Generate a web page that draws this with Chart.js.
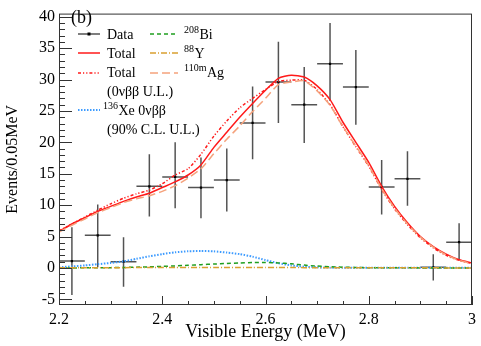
<!DOCTYPE html>
<html>
<head>
<meta charset="utf-8">
<script src="https://cdn.jsdelivr.net/npm/chart.js@4.4.0/dist/chart.umd.min.js"></script>
<style>
  html, body { margin: 0; padding: 0; background: #fff; }
</style>
</head>
<body>
<canvas id="chart" width="481" height="346"></canvas>
<script>
// ---- data ----
const energyGrid = [2.200, 2.225, 2.250, 2.275, 2.300, 2.325, 2.350, 2.375, 2.400, 2.425,
                    2.450, 2.475, 2.500, 2.525, 2.550, 2.575, 2.600, 2.625, 2.650, 2.675,
                    2.700, 2.725, 2.750, 2.775, 2.800, 2.825, 2.850, 2.875, 2.900, 2.925,
                    2.950, 2.975, 3.000];
const totalFit = [5.8, 7.0, 8.0, 9.0, 9.8, 10.6, 11.3, 11.9, 12.8, 13.7,
                  14.8, 16.4, 19.2, 21.6, 24.0, 26.2, 28.3, 30.2, 30.7, 30.4,
                  29.0, 26.8, 23.2, 20.0, 16.8, 13.0, 9.8, 7.2, 5.0, 3.4,
                  2.2, 1.3, 0.8];
const totalUL = [5.9, 7.0, 8.1, 9.2, 10.2, 11.1, 11.8, 12.4, 13.4, 14.8,
                 15.8, 18.1, 21.0, 23.4, 25.5, 27.0, 28.4, 29.7, 29.9, 29.9,
                 28.4, 26.0, 22.5, 19.3, 16.2, 12.5, 9.4, 6.9, 4.8, 3.2,
                 2.0, 1.2, 0.7];
const ag110m = [5.7, 6.8, 7.8, 8.8, 9.6, 10.4, 11.0, 11.5, 12.2, 13.1,
                14.3, 15.8, 18.2, 20.5, 22.6, 24.9, 27.0, 29.2, 29.6, 29.8,
                28.2, 25.9, 22.5, 19.4, 16.3, 12.6, 9.5, 7.0, 4.9, 3.3,
                2.1, 1.2, 0.7];
const xe0nu = [0.1, 0.25, 0.4, 0.6, 0.8, 1.05, 1.45, 1.85, 2.2, 2.5,
               2.65, 2.7, 2.65, 2.45, 2.2, 1.8, 1.25, 0.75, 0.4, 0.2,
               0.1, 0.05, 0.03, 0.02, 0.02, 0.02, 0.02, 0.02, 0.02, 0.02,
               0.02, 0.02, 0.02];
const bi208 = [0.0, 0.0, 0.02, 0.03, 0.05, 0.08, 0.12, 0.18, 0.25, 0.33,
               0.42, 0.52, 0.62, 0.72, 0.8, 0.86, 0.88, 0.8, 0.65, 0.45,
               0.3, 0.2, 0.12, 0.07, 0.04, 0.03, 0.02, 0.02, 0.01, 0.01,
               0.01, 0.01, 0.01];
const y88 = [0.02, 0.03, 0.03, 0.04, 0.05, 0.05, 0.06, 0.06, 0.07, 0.07,
             0.08, 0.08, 0.08, 0.08, 0.08, 0.07, 0.07, 0.06, 0.06, 0.05,
             0.05, 0.04, 0.04, 0.03, 0.03, 0.03, 0.02, 0.02, 0.02, 0.02,
             0.01, 0.01, 0.01];

// measured counts per 0.05 MeV bin, with error bar ends
const dataE  = [2.225, 2.275, 2.325, 2.375, 2.425, 2.475, 2.525, 2.575,
                2.625, 2.675, 2.725, 2.775, 2.825, 2.875, 2.925, 2.975];
const dataN  = [1.1, 5.2, 1.0, 13.0, 14.5, 12.8, 14.0, 23.1,
                29.6, 26.0, 32.5, 28.8, 12.9, 14.2, 0.1, 4.1];
const dataHi = [6.5, 10.1, 4.9, 18.1, 20.0, 17.6, 19.0, 28.9,
                36.0, 32.0, 39.0, 34.7, 17.2, 18.6, 2.2, 7.1];
const dataLo = [-4.3, 0.1, -3.0, 8.2, 9.5, 7.9, 9.0, 17.3,
                23.1, 19.9, 26.6, 22.8, 8.5, 9.9, -2.0, 1.3];
const binHalf = 0.025;

const xTicks = [2.2, 2.4, 2.6, 2.8, 3.0];
const yTicks = [-5, 0, 5, 10, 15, 20, 25, 30, 35, 40];

const panelLabel = '(b)';
const xTitle = 'Visible Energy (MeV)';
const yTitle = 'Events/0.05MeV';

// ---- styles ----
const SERIF = '"Liberation Serif", "DejaVu Serif", serif';
const C_TOTAL = '#ff1a1a';
const C_XE = '#3d9bff';
const C_BI = '#1f9e1f';
const C_Y = '#d9a030';
const C_AG = '#f5a27c';

function curve(values) {
  return energyGrid.map((e, i) => ({ x: e, y: values[i] }));
}

const lineBase = { pointRadius: 0, fill: false, tension: 0.2, borderWidth: 1.5 };

const datasets = [
  { ...lineBase, label: 'Y88', data: curve(y88), borderColor: C_Y, borderDash: [6, 2, 1, 2] },
  { ...lineBase, label: 'Bi208', data: curve(bi208), borderColor: C_BI, borderDash: [4, 3] },
  { ...lineBase, label: 'Xe', data: curve(xe0nu), borderColor: C_XE, borderDash: [1.5, 1.5], borderWidth: 2 },
  { ...lineBase, label: 'Ag110m', data: curve(ag110m), borderColor: C_AG, borderDash: [8, 4] },
  { ...lineBase, label: 'TotalUL', data: curve(totalUL), borderColor: C_TOTAL, borderDash: [3, 2, 1.2, 2, 1.2, 2] },
  { ...lineBase, label: 'Total', data: curve(totalFit), borderColor: C_TOTAL },
  {
    type: 'scatter', label: 'Data',
    data: dataE.map((e, i) => ({ x: e, y: dataN[i] })),
    pointStyle: 'rect', pointRadius: 1.6, backgroundColor: '#000', borderColor: '#000', borderWidth: 0
  }
];

// error bars for the data points
const errorBars = {
  id: 'errorBars',
  beforeDatasetDraw(chart, args) {
    if (chart.data.datasets[args.index].label !== 'Data') return;
    const { ctx, scales: { x, y }, chartArea: a } = chart;
    ctx.save();
    ctx.beginPath();
    ctx.rect(a.left, a.top, a.right - a.left, a.bottom - a.top);
    ctx.clip();
    ctx.strokeStyle = 'rgba(40,40,40,0.8)';
    ctx.lineWidth = 1.5;
    dataE.forEach((e, i) => {
      const px = x.getPixelForValue(e);
      const py = y.getPixelForValue(dataN[i]);
      ctx.beginPath();
      ctx.moveTo(x.getPixelForValue(e - binHalf), py);
      ctx.lineTo(x.getPixelForValue(e + binHalf), py);
      ctx.moveTo(px, y.getPixelForValue(dataLo[i]));
      ctx.lineTo(px, y.getPixelForValue(dataHi[i]));
      ctx.stroke();
    });
    ctx.restore();
  }
};

// ROOT style frame with inward ticks
const frameTicks = {
  id: 'frameTicks',
  afterDatasetsDraw(chart) {
    const { ctx, chartArea: a, scales: { x, y } } = chart;
    ctx.save();
    ctx.strokeStyle = '#333';
    ctx.lineWidth = 1;
    ctx.strokeRect(a.left + 0.5, a.top + 0.5, a.right - a.left - 1, a.bottom - a.top - 1);
    ctx.beginPath();
    for (let v = -5; v <= 40; v++) {
      const py = Math.round(y.getPixelForValue(v)) + 0.5;
      const len = v % 5 === 0 ? 13 : 6;
      ctx.moveTo(a.left, py);
      ctx.lineTo(a.left + len, py);
    }
    for (let k = 0; k <= 16; k++) {
      const px = Math.round(x.getPixelForValue(2.2 + k * 0.05)) + 0.5;
      const len = k % 4 === 0 ? 9 : 4;
      ctx.moveTo(px, a.bottom);
      ctx.lineTo(px, a.bottom - len);
    }
    ctx.stroke();
    ctx.restore();
  }
};

// legend drawn in the ROOT layout
function sample(ctx, x0, x1, yy, color, dash, width) {
  ctx.save();
  ctx.strokeStyle = color;
  ctx.lineWidth = width || 1.5;
  ctx.setLineDash(dash || []);
  ctx.beginPath();
  ctx.moveTo(x0, yy);
  ctx.lineTo(x1, yy);
  ctx.stroke();
  ctx.restore();
}

function supText(ctx, x0, yy, sup, main) {
  ctx.font = '10px ' + SERIF;
  ctx.fillText(sup, x0, yy - 5);
  const w = ctx.measureText(sup).width;
  ctx.font = '14px ' + SERIF;
  ctx.fillText(main, x0 + w + 0.5, yy);
}

const legendBox = {
  id: 'legendBox',
  afterDraw(chart) {
    const { ctx } = chart;
    ctx.save();
    ctx.fillStyle = '#000';
    ctx.textBaseline = 'middle';
    ctx.font = '18px ' + SERIF;
    ctx.fillText(panelLabel, 71, 18);

    // column 1
    sample(ctx, 78, 100, 34, 'rgba(40,40,40,0.8)', [], 1.5);
    ctx.fillRect(87.5, 32.5, 3, 3);
    sample(ctx, 78, 100, 53, C_TOTAL);
    sample(ctx, 78, 100, 73, C_TOTAL, [3, 2, 1.2, 2, 1.2, 2]);
    sample(ctx, 78, 100, 110, C_XE, [1.5, 1.5], 2);
    ctx.font = '14px ' + SERIF;
    ctx.fillText('Data', 107, 35);
    ctx.fillText('Total', 107, 54);
    ctx.fillText('Total', 107, 73);
    ctx.fillText('(0νββ U.L.)', 107, 92);
    supText(ctx, 103, 111, '136', 'Xe 0νββ');
    ctx.font = '14px ' + SERIF;
    ctx.fillText('(90% C.L. U.L.)', 107, 130);

    // column 2
    sample(ctx, 150, 178, 34, C_BI, [4, 3]);
    sample(ctx, 150, 178, 53, C_Y, [6, 2, 1, 2]);
    sample(ctx, 150, 178, 73, C_AG, [8, 4]);
    supText(ctx, 184, 35, '208', 'Bi');
    supText(ctx, 184, 54, '88', 'Y');
    supText(ctx, 184, 73, '110m', 'Ag');
    ctx.restore();
  }
};

const tickFont = { family: SERIF, size: 16 };

new Chart(document.getElementById('chart'), {
  type: 'line',
  data: { datasets: datasets },
  options: {
    responsive: false,
    animation: false,
    layout: { padding: { top: 5, right: 5, left: 0, bottom: 0 } },
    plugins: { legend: { display: false }, tooltip: { enabled: false } },
    scales: {
      x: {
        type: 'linear', min: 2.2, max: 3.0,
        afterBuildTicks: s => { s.ticks = xTicks.map(v => ({ value: v })); },
        afterFit: s => { s.height = 41; },
        grid: { display: false, drawTicks: false },
        border: { display: false },
        ticks: { padding: 5, color: '#000', font: tickFont, maxRotation: 0, autoSkip: false,
                 callback: v => String(Math.round(v * 10) / 10) },
        title: { display: true, text: xTitle, color: '#000', font: { family: SERIF, size: 18 },
                 padding: { top: 0, bottom: 3 } }
      },
      y: {
        type: 'linear', min: -5.9, max: 40.5,
        afterBuildTicks: s => { s.ticks = yTicks.map(v => ({ value: v })); },
        afterFit: s => { s.width = 59; },
        grid: { display: false, drawTicks: false },
        border: { display: false },
        ticks: { padding: 4, color: '#000', font: tickFont, autoSkip: false },
        title: { display: true, text: yTitle, color: '#000', font: tickFont, padding: { top: 3, bottom: 0 } }
      }
    }
  },
  plugins: [errorBars, frameTicks, legendBox]
});
</script>
</body>
</html>
